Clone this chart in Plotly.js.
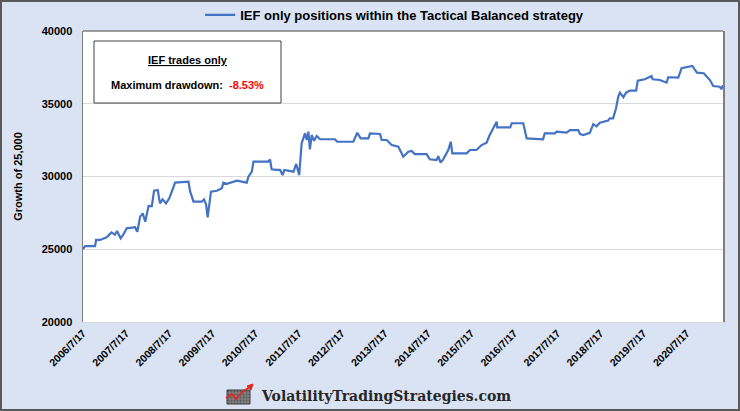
<!DOCTYPE html>
<html>
<head>
<meta charset="utf-8">
<script src="https://cdn.plot.ly/plotly-3.0.1.min.js"></script>
<style>
html,body{margin:0;padding:0;background:#dae3f3;}
#wrap{position:relative;width:740px;height:411px;}
#chart{width:740px;height:411px;}
#frame{position:absolute;left:0;top:0;width:736px;height:407px;border:2px solid #595959;pointer-events:none;}
</style>
</head>
<body>
<div id="wrap"><div id="chart"></div><div id="frame"></div></div>
<script>
// ---- data ----
const seriesName = "IEF only positions within the Tactical Balanced strategy";
const dates = [
"2006-07-17","2006-08-03","2006-10-27","2006-11-05","2006-12-08","2007-02-03","2007-03-15","2007-04-13","2007-05-01","2007-06-01",
"2007-06-23","2007-07-22","2007-10-01","2007-10-20","2007-11-13","2007-12-05","2007-12-26","2008-01-23","2008-02-20","2008-03-10",
"2008-04-10","2008-04-29","2008-05-21","2008-06-19","2008-07-17","2008-09-04","2008-12-26","2009-01-10","2009-02-07","2009-04-18",
"2009-05-07","2009-05-24","2009-06-07","2009-07-05","2009-08-23","2009-10-05","2009-10-18","2009-11-16","2010-02-10","2010-05-04",
"2010-05-18","2010-06-16","2010-06-30","2010-11-02","2010-11-17","2010-12-01","2011-01-13","2011-02-10","2011-03-04","2011-03-18",
"2011-06-04","2011-06-27","2011-07-22","2011-08-12","2011-09-09","2011-09-24","2011-10-08","2011-10-21","2011-11-05","2011-11-25",
"2011-12-17","2012-01-15","2012-05-20","2012-06-08","2012-10-23","2012-11-14","2012-11-25","2012-12-24","2013-02-27","2013-03-13",
"2013-06-06","2013-06-20","2013-08-01","2013-09-13","2013-11-08","2013-12-20","2014-01-18","2014-01-31","2014-03-01","2014-03-27",
"2014-07-06","2014-08-01","2014-09-28","2014-10-12","2014-11-01","2014-11-23","2015-01-05","2015-01-26","2015-02-08","2015-06-10",
"2015-07-08","2015-09-01","2015-10-14","2015-11-26","2015-12-18","2016-01-21","2016-02-19","2016-02-24","2016-06-12","2016-06-26",
"2016-10-01","2016-10-30","2017-03-18","2017-04-01","2017-06-26","2017-07-10","2017-10-03","2017-11-01","2018-01-10","2018-01-25",
"2018-02-22","2018-04-18","2018-05-17","2018-06-14","2018-07-12","2018-09-20","2018-10-04","2018-11-01","2018-11-26","2018-12-15",
"2018-12-29","2019-01-27","2019-02-19","2019-03-24","2019-05-15","2019-05-29","2019-07-28","2019-09-23","2019-10-02","2019-12-03",
"2020-01-28","2020-02-11","2020-05-06","2020-06-03","2020-07-16","2020-09-03","2020-09-22","2020-10-12","2020-12-08","2020-12-31",
"2021-01-29","2021-02-26","2021-04-22","2021-05-06","2021-05-20"
];
const growth = [
25000,25220,25220,25640,25640,25820,26160,26000,26250,25750,
26000,26440,26510,26200,27240,27470,26890,27970,27970,29020,
29070,28150,28430,28150,28500,29580,29650,28960,28270,28270,
28430,28110,27200,28960,29020,29190,29580,29500,29710,29580,
29990,30330,31020,31020,31180,30490,30450,30450,30100,30450,
30330,30860,30100,32280,32970,32510,33080,31870,32850,32460,
32780,32560,32560,32390,32390,32850,33010,32620,32620,32970,
32920,32510,32510,32160,32050,31360,31640,31700,31760,31540,
31540,31180,31130,31400,30950,31180,31820,32390,31590,31590,
31820,31820,32160,32320,32780,33380,33770,33380,33380,33660,
33660,32620,32560,32970,32970,33080,33010,33190,33190,32920,
32850,33000,33600,33450,33700,33840,34000,34000,34690,35490,
35760,35450,35760,35900,35900,36580,36680,36900,36680,36630,
36450,36820,36800,37440,37510,37600,37370,37140,37100,36860,
36630,36220,36170,36000,36270
];
const tickDates = ["2006-07-17","2007-07-17","2008-07-17","2009-07-17","2010-07-17","2011-07-17","2012-07-17","2013-07-17","2014-07-17","2015-07-17","2016-07-17","2017-07-17","2018-07-17","2019-07-17","2020-07-17"];
const tickLabels = ["2006/7/17","2007/7/17","2008/7/17","2009/7/17","2010/7/17","2011/7/17","2012/7/17","2013/7/17","2014/7/17","2015/7/17","2016/7/17","2017/7/17","2018/7/17","2019/7/17","2020/7/17"];
const yTicks = [20000,25000,30000,35000,40000];
const boxTitle = "IEF trades only";
const drawdownLabel = "Maximum drawdown:";
const drawdownValue = "-8.53%";
const yTitle = "Growth of 25,000";
const footerText = "VolatilityTradingStrategies.com";

// ---- layout helpers (pixel -> paper) ----
const L=83,R=723,T=31,B=322;
const px = x => (x-L)/(R-L);
const py = y => (B-y)/(B-T);

const FONT = "Liberation Sans, Arial, sans-serif";

const trace = {
  x: dates, y: growth, type: "scatter", mode: "lines", name: seriesName,
  line: {color: "#4472C4", width: 2.2, shape: "linear"}
};

// logo icon shapes
const icon = [];
icon.push({type:"rect", xref:"paper", yref:"paper", x0:px(227), x1:px(250), y0:py(404), y1:py(390), fillcolor:"#5a5a5a", line:{color:"#3a3a3a", width:1}, layer:"above"});
for (let gx=230; gx<250; gx+=3) icon.push({type:"line", xref:"paper", yref:"paper", x0:px(gx), x1:px(gx), y0:py(404), y1:py(390), line:{color:"#a0a0a0", width:0.6}, layer:"above"});
for (let gy=393; gy<404; gy+=3) icon.push({type:"line", xref:"paper", yref:"paper", x0:px(227), x1:px(250), y0:py(gy), y1:py(gy), line:{color:"#a0a0a0", width:0.6}, layer:"above"});
icon.push({type:"path", xref:"paper", yref:"paper",
  path:`M ${px(226)} ${py(398)} L ${px(232)} ${py(394)} L ${px(236)} ${py(399)} L ${px(242)} ${py(392)} L ${px(251)} ${py(386)}`,
  line:{color:"#e8231f", width:1.6}, layer:"above"});
icon.push({type:"path", xref:"paper", yref:"paper",
  path:`M ${px(253)} ${py(384)} L ${px(247)} ${py(386)} L ${px(251)} ${py(390)} Z`,
  fillcolor:"#e8231f", line:{color:"#e8231f", width:1}, layer:"above"});

const layout = {
  width: 740, height: 411,
  margin: {l: L, r: 740-R, t: T, b: 411-B, pad: 0, autoexpand: false},
  paper_bgcolor: "#dae3f3",
  plot_bgcolor: "#ffffff",
  font: {family: FONT, color: "#000000"},
  showlegend: true,
  legend: {
    orientation: "h", x: 0.487, xanchor: "center", y: py(15), yanchor: "middle",
    font: {family: FONT, size: 13, weight: "bold", color: "#000"},
    bgcolor: "rgba(0,0,0,0)", itemwidth: 20
  },
  xaxis: {
    type: "date",
    range: ["2006-07-17", "2021-05-20"],
    tickmode: "array", tickvals: tickDates, ticktext: tickLabels,
    tickangle: -45,
    tickfont: {family: FONT, size: 10.5, weight: "bold", color: "#000"},
    showgrid: false, zeroline: false,
    showline: true, linecolor: "#d9d9d9", linewidth: 1, mirror: false,
    ticks: ""
  },
  yaxis: {
    range: [20000, 40000],
    tickmode: "array", tickvals: yTicks, tickformat: "d",
    tickfont: {family: FONT, size: 11, weight: "bold", color: "#000"},
    showgrid: true, gridcolor: "#d9d9d9", gridwidth: 1,
    zeroline: false,
    showline: true, linecolor: "#7f7f7f", linewidth: 1.5, mirror: true,
    ticks: "outside", ticklen: 7, tickcolor: "rgba(0,0,0,0)",
    title: {text: yTitle, font: {family: FONT, size: 11, weight: "bold", color: "#000"}, standoff: 17}
  },
  shapes: [
    {type:"line", xref:"paper", yref:"paper", x0:0, x1:1, y0:1, y1:1, line:{color:"#7f7f7f", width:1.5}},
    {type:"rect", xref:"paper", yref:"paper", x0:px(94), x1:px(281), y0:py(103), y1:py(41),
     fillcolor:"#ffffff", line:{color:"#404040", width:1}, layer:"above"}
  ].concat(icon),
  annotations: [
    {xref:"paper", yref:"paper", x:px(187.5), y:py(60), text:"<u>"+boxTitle+"</u>", showarrow:false,
     font:{family:FONT, size:11, weight:"bold", color:"#000"}, xanchor:"center", yanchor:"middle"},
    {xref:"paper", yref:"paper", x:px(187.5), y:py(85),
     text: drawdownLabel + "  <span style='color:#ff0000'>" + drawdownValue + "</span>", showarrow:false,
     font:{family:FONT, size:11, weight:"bold", color:"#000"}, xanchor:"center", yanchor:"middle"},
    {xref:"paper", yref:"paper", x:px(385.5), y:py(396), text:"<b>"+footerText+"</b>", showarrow:false,
     font:{family:"DejaVu Serif, serif", size:14, color:"#262626"}, xanchor:"center", yanchor:"middle"}
  ]
};

Plotly.newPlot("chart", [trace], layout, {staticPlot: true, displayModeBar: false});
</script>
</body>
</html>
